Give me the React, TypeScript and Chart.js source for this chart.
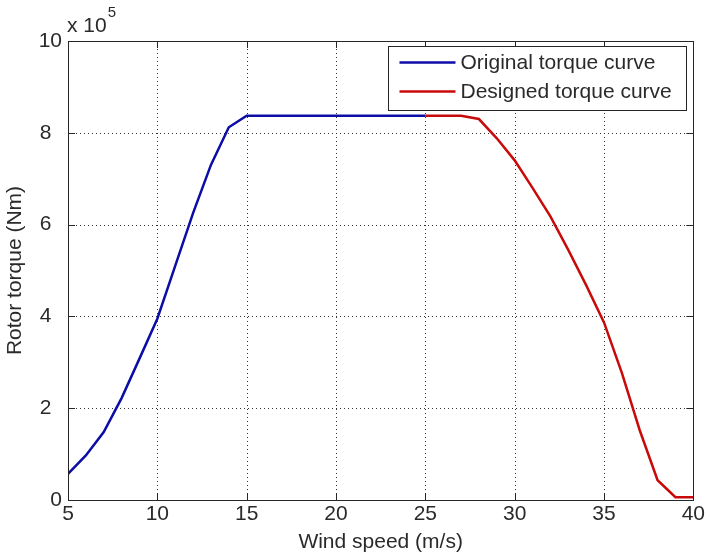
import React, { useEffect, useRef } from "react";
import { Chart, registerables } from "chart.js";

Chart.register(...registerables);

// Wind speed (m/s) and rotor torque (x 10^5 Nm)
const windOriginal = [5, 6, 7, 8, 9, 10, 11, 12, 13, 14, 15, 20, 25];
const torqueOriginal = [0.57, 0.97, 1.48, 2.22, 3.08, 3.95, 5.1, 6.25, 7.3, 8.12, 8.37, 8.37, 8.37];

const windDesigned = [25, 26, 27, 28, 29, 30, 31, 32, 33, 34, 35, 36, 37, 38, 39, 40];
const torqueDesigned = [8.37, 8.37, 8.37, 8.3, 7.88, 7.4, 6.8, 6.18, 5.45, 4.68, 3.87, 2.77, 1.52, 0.43, 0.06, 0.06];

const xTicks = [5, 10, 15, 20, 25, 30, 35, 40];
const yTicks = [0, 2, 4, 6, 8, 10];

const seriesLabels = ["Original torque curve", "Designed torque curve"];
const seriesColors = ["#0c0ca6", "#c80a0a"];

const FONT = "'Liberation Sans', Arial, Helvetica, sans-serif";
const TEXT = "#2a2a2a";

const matlabPlugin = {
  id: "matlabAxes",
  beforeDatasetsDraw(chart: any) {
    const { ctx, chartArea: a, scales } = chart;
    ctx.save();
    ctx.strokeStyle = "#333333";
    ctx.lineWidth = 1;
    ctx.setLineDash([1, 3]);
    xTicks.forEach((v) => {
      const x = Math.round(scales.x.getPixelForValue(v)) + 0.5;
      if (v === xTicks[0] || v === xTicks[xTicks.length - 1]) return;
      ctx.beginPath();
      ctx.moveTo(x, a.top);
      ctx.lineTo(x, a.bottom);
      ctx.stroke();
    });
    yTicks.forEach((v) => {
      const y = Math.round(scales.y.getPixelForValue(v)) + 0.5;
      if (v === yTicks[0] || v === yTicks[yTicks.length - 1]) return;
      ctx.beginPath();
      ctx.moveTo(a.left, y);
      ctx.lineTo(a.right, y);
      ctx.stroke();
    });
    ctx.restore();
  },
  afterDatasetsDraw(chart: any) {
    const { ctx, chartArea: a, scales } = chart;
    ctx.save();
    // frame
    ctx.strokeStyle = "#262626";
    ctx.lineWidth = 1;
    ctx.setLineDash([]);
    ctx.strokeRect(Math.round(a.left) + 0.5, Math.round(a.top) + 0.5, Math.round(a.right - a.left), Math.round(a.bottom - a.top));
    // inward ticks
    const tl = 7;
    xTicks.forEach((v) => {
      const x = Math.round(scales.x.getPixelForValue(v)) + 0.5;
      ctx.beginPath();
      ctx.moveTo(x, a.bottom);
      ctx.lineTo(x, a.bottom - tl);
      ctx.moveTo(x, a.top);
      ctx.lineTo(x, a.top + tl);
      ctx.stroke();
    });
    yTicks.forEach((v) => {
      const y = Math.round(scales.y.getPixelForValue(v)) + 0.5;
      ctx.beginPath();
      ctx.moveTo(a.left, y);
      ctx.lineTo(a.left + tl, y);
      ctx.moveTo(a.right, y);
      ctx.lineTo(a.right - tl, y);
      ctx.stroke();
    });
    // exponent label
    ctx.fillStyle = TEXT;
    ctx.textBaseline = "alphabetic";
    ctx.textAlign = "left";
    ctx.font = `21px ${FONT}`;
    ctx.fillText("x 10", a.left - 1, a.top - 9);
    const w = ctx.measureText("x 10").width;
    ctx.font = `15px ${FONT}`;
    ctx.fillText("5", a.left - 1 + w + 1, a.top - 24);
    // legend
    const lw = 298;
    const lh = 64;
    const lx = Math.round(a.right - 7 - lw) + 0.5;
    const ly = Math.round(a.top + 5) + 0.5;
    ctx.fillStyle = "#ffffff";
    ctx.fillRect(lx, ly, lw, lh);
    ctx.strokeStyle = "#262626";
    ctx.strokeRect(lx, ly, lw, lh);
    ctx.font = `21px ${FONT}`;
    ctx.textBaseline = "middle";
    chart.data.datasets.forEach((ds: any, i: number) => {
      const cy = ly + 16 + i * 29;
      ctx.strokeStyle = ds.borderColor;
      ctx.lineWidth = 2.5;
      ctx.beginPath();
      ctx.moveTo(lx + 11, cy);
      ctx.lineTo(lx + 67, cy);
      ctx.stroke();
      ctx.fillStyle = TEXT;
      ctx.fillText(ds.label, lx + 72, cy + 1);
    });
    ctx.restore();
  },
};

export default function App() {
  const ref = useRef<HTMLCanvasElement | null>(null);

  useEffect(() => {
    if (!ref.current) return;
    const chart = new Chart(ref.current, {
      type: "line",
      data: {
        datasets: [
          {
            label: seriesLabels[0],
            data: windOriginal.map((x, i) => ({ x, y: torqueOriginal[i] })),
            borderColor: seriesColors[0],
            backgroundColor: seriesColors[0],
            borderWidth: 2.5,
            pointRadius: 0,
            tension: 0,
          },
          {
            label: seriesLabels[1],
            data: windDesigned.map((x, i) => ({ x, y: torqueDesigned[i] })),
            borderColor: seriesColors[1],
            backgroundColor: seriesColors[1],
            borderWidth: 2.5,
            pointRadius: 0,
            tension: 0,
          },
        ],
      },
      plugins: [matlabPlugin],
      options: {
        responsive: false,
        animation: false,
        events: [],
        layout: { padding: { top: 41, right: 11, left: 0, bottom: 0 } },
        plugins: {
          legend: { display: false },
          tooltip: { enabled: false },
        },
        scales: {
          x: {
            type: "linear",
            min: 5,
            max: 40,
            afterBuildTicks: (s: any) => {
              s.ticks = xTicks.map((v) => ({ value: v }));
            },
            afterFit: (s: any) => {
              s.height = 56;
            },
            grid: { display: false, drawTicks: false },
            border: { display: false },
            ticks: {
              color: TEXT,
              padding: 2,
              maxRotation: 0,
              autoSkip: false,
              font: { family: FONT, size: 21, lineHeight: 1.2 },
            },
            title: {
              display: true,
              text: "Wind speed (m/s)",
              color: TEXT,
              padding: { top: 0, bottom: 1 },
              font: { family: FONT, size: 21, lineHeight: 1.2 },
            },
          },
          y: {
            type: "linear",
            min: 0,
            max: 10,
            afterBuildTicks: (s: any) => {
              s.ticks = yTicks.map((v) => ({ value: v }));
            },
            afterFit: (s: any) => {
              s.width = 68;
            },
            grid: { display: false, drawTicks: false },
            border: { display: false },
            ticks: {
              color: TEXT,
              padding: 6,
              autoSkip: false,
              font: { family: FONT, size: 21, lineHeight: 1.2 },
              callback: (v: any) => (v === 0 || v === 10 ? String(v) : String(v) + "\u2002"),
            },
            title: {
              display: true,
              text: "Rotor torque (Nm)",
              color: TEXT,
              padding: { top: 3, bottom: 0 },
              font: { family: FONT, size: 21, lineHeight: 1.2 },
            },
          },
        },
      },
    });
    return () => chart.destroy();
  }, []);

  return (
    <div style={{ position: "fixed", left: 0, top: 0, width: 707, height: 556, background: "#ffffff" }}>
      <canvas ref={ref} width={707} height={556} style={{ display: "block" }} />
    </div>
  );
}
